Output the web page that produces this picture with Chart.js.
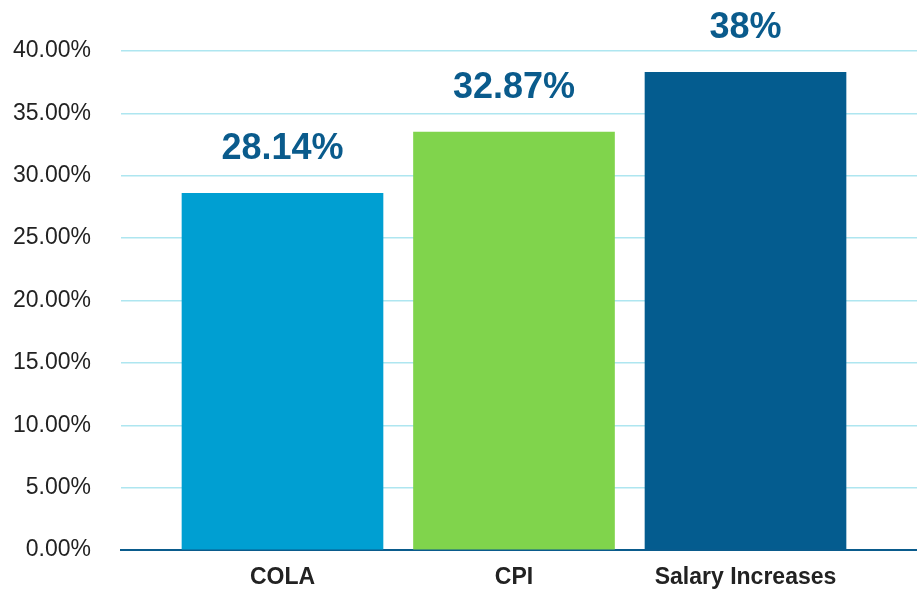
<!DOCTYPE html>
<html>
<head>
<meta charset="utf-8">
<script src="https://cdn.jsdelivr.net/npm/chart.js@4"></script>
<style>
  html, body { margin: 0; padding: 0; background: #fff; overflow: hidden; }
  canvas { display: block; }
</style>
</head>
<body>
<canvas id="rateChart" width="917" height="589"></canvas>
<script>
const categories = ["COLA", "CPI", "Salary Increases"];
const barValues = [28.6, 33.5, 38.3];
const valueLabels = ["28.14%", "32.87%", "38%"];
const barColors = ["#009fd2", "#80d44c", "#045c8f"];
const yTicks = [0, 5, 10, 15, 20, 25, 30, 35, 40];

const labelColor = "#0a5b8c";

const valueLabelPlugin = {
  id: "valueLabels",
  afterDatasetsDraw(chart) {
    const ctx = chart.ctx;
    const meta = chart.getDatasetMeta(0);
    ctx.save();
    ctx.font = "bold 36px 'Liberation Sans', Arial, sans-serif";
    ctx.fillStyle = labelColor;
    ctx.textAlign = "center";
    ctx.textBaseline = "alphabetic";
    meta.data.forEach((bar, i) => {
      ctx.fillText(valueLabels[i], bar.x, bar.y - 34);
    });
    ctx.restore();
  }
};

const context = document.getElementById("rateChart").getContext("2d");
new Chart(context, {
  type: "bar",
  data: {
    datasets: [{
      data: categories.map((name, i) => ({ x: i, y: barValues[i] })),
      backgroundColor: barColors,
      borderWidth: 0,
      barThickness: 201
    }]
  },
  plugins: [valueLabelPlugin],
  options: {
    responsive: false,
    animation: false,
    layout: { padding: { top: 51, right: 0, left: 0, bottom: 0 } },
    plugins: { legend: { display: false }, tooltip: { enabled: false } },
    scales: {
      x: {
        type: "linear",
        min: -0.6976,
        max: 2.7408,
        offset: false,
        bounds: "data",
        z: 1,
        grid: { display: false, drawTicks: false, offset: false },
        border: { display: true, color: labelColor, width: 2 },
        afterFit: (scale) => { scale.height = 39; },
        afterBuildTicks: (scale) => { scale.ticks = categories.map((name, i) => ({ value: i })); },
        ticks: {
          autoSkip: false,
          maxRotation: 0,
          padding: 14,
          color: "#222",
          font: { family: "'Liberation Sans', Arial, sans-serif", size: 23, weight: "bold" },
          callback: (value) => categories[value] || ""
        }
      },
      y: {
        min: yTicks[0],
        max: yTicks[yTicks.length - 1],
        grid: { color: "#aee6f0", lineWidth: 1.5, drawTicks: false },
        border: { display: false },
        afterFit: (scale) => {
          scale.width = 121;
          scale.paddingTop = 0;
          scale.paddingBottom = 0;
        },
        afterBuildTicks: (scale) => { scale.ticks = yTicks.map((v) => ({ value: v })); },
        ticks: {
          padding: 30,
          color: "#222",
          font: { family: "'Liberation Sans', Arial, sans-serif", size: 23 },
          callback: (value) => value.toFixed(2) + "%"
        }
      }
    }
  }
});
</script>
</body>
</html>
